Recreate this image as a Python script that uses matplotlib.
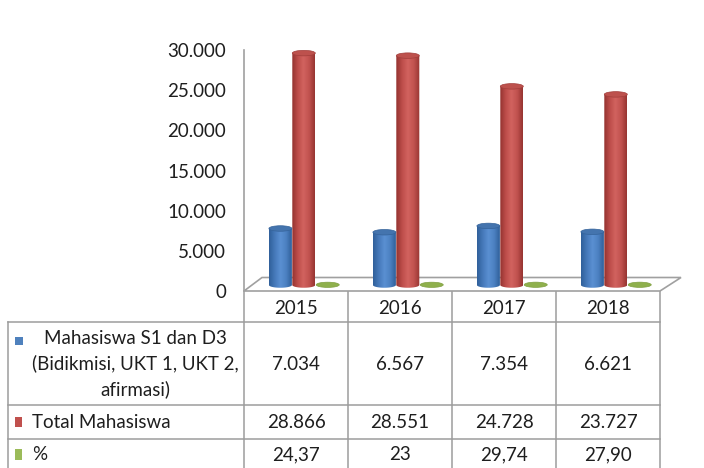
import numpy as np
import matplotlib.pyplot as plt
from matplotlib.patches import Ellipse, Polygon, Rectangle
from matplotlib.colors import LinearSegmentedColormap

plt.rcParams['font.family'] = ['Lato', 'DejaVu Sans']

years = ['2015', '2016', '2017', '2018']
mahasiswa_s1_d3 = [7034, 6567, 7354, 6621]
total_mahasiswa = [28866, 28551, 24728, 23727]
persen_labels = ['24,37', '23', '29,74', '27,90']
persen = [float(p.replace(',', '.')) for p in persen_labels]
yticks = [0, 5000, 10000, 15000, 20000, 25000, 30000]

row_names = ['Mahasiswa S1 dan D3\n(Bidikmisi, UKT 1, UKT 2,\nafirmasi)',
             'Total Mahasiswa', '%']


def fmt(v):
    return f'{v:,}'.replace(',', '.')


W, H = 704, 468
fig = plt.figure(figsize=(W / 100, H / 100), dpi=100)

# chart axes: value 0 at pixel row 291, 30.000 at row 50; columns 244..660
x_left, x_right, y_zero, y_top = 244, 660, 291, 50
ax = fig.add_axes([x_left / W, (H - y_zero) / H, (x_right - x_left) / W, (y_zero - y_top) / H])
ax.set_facecolor('none')

px_per_unit_y = (y_zero - y_top) / 30000
px_per_unit_x = (x_right - x_left) / 4
depth = 6 / px_per_unit_y        # 3d floor offset of bar bases
cap_h = 5.5 / px_per_unit_y      # cylinder cap height in value units
bw = 23 / px_per_unit_x          # cylinder width in category units

blue_cmap = LinearSegmentedColormap.from_list(
    'b', ['#30609a', '#4679ba', '#5a90d2', '#4c81c2', '#30609a'])
red_cmap = LinearSegmentedColormap.from_list(
    'r', ['#943330', '#bd4d4a', '#d2635f', '#c1524f', '#973532'])
grad = np.linspace(0, 1, 80).reshape(1, -1)


def cylinder(cx, value, cmap, top_face, top_edge):
    x0, x1 = cx - bw / 2, cx + bw / 2
    base = depth
    top = depth + value
    t = np.linspace(np.pi, 2 * np.pi, 40)
    pts = [(x0, top), (x0, base)]
    pts += list(zip(cx + bw / 2 * np.cos(t), base + cap_h / 2 * np.sin(t)))
    pts += [(x1, base), (x1, top)]
    clip = Polygon(pts, closed=True, transform=ax.transData, facecolor='none', edgecolor='none')
    ax.add_patch(clip)
    im = ax.imshow(grad, cmap=cmap, extent=[x0, x1, base - cap_h, top],
                   aspect='auto', interpolation='bilinear', zorder=3)
    im.set_clip_path(clip)
    ax.add_patch(Ellipse((cx, top), bw, cap_h, facecolor=top_face,
                         edgecolor=top_edge, lw=0.5, zorder=4))


# floor
floor = Polygon([(-0.5, 0), (-0.5 + 18 / px_per_unit_x, 13.5 / px_per_unit_y),
                 (3.5 + 21 / px_per_unit_x, 13.5 / px_per_unit_y), (3.5, 0)],
                closed=True, facecolor='white', edgecolor='#a0a0a0', lw=1.2,
                clip_on=False, zorder=1)
ax.add_patch(floor)

for i in range(len(years)):
    cylinder(i - 0.15, mahasiswa_s1_d3[i], blue_cmap, '#4474ae', '#35639a')
    cylinder(i + 0.075, total_mahasiswa[i], red_cmap, '#bd514d', '#a23e3b')
    ax.add_patch(Ellipse((i + 0.305, depth + persen[i]), bw, cap_h * 0.95,
                         facecolor='#8fb04c', edgecolor='#7f9f40', lw=0.5, zorder=4))

ax.set_xlim(-0.5, 3.5)
ax.set_ylim(0, 30000)
ax.set_yticks(yticks)
ax.set_yticklabels([fmt(v) for v in yticks], fontsize=13.5, color='#1e1e1e')
ax.set_xticks([])
ax.tick_params(axis='y', length=0, pad=13)
for s in ['top', 'right', 'bottom']:
    ax.spines[s].set_visible(False)
ax.spines['left'].set_color('#a0a0a0')
ax.spines['left'].set_linewidth(1.2)

# data table drawn in pixel space
tab = fig.add_axes([0, 0, 1, 1])
tab.set_xlim(0, W)
tab.set_ylim(H, 0)
tab.axis('off')
tab.set_zorder(-1)
lc, lw = '#9c9c9c', 1.1
col_w = (x_right - x_left) / len(years)
rows = [y_zero, 322, 405, 439]
for k in range(len(years) + 1):
    tab.plot([x_left + k * col_w] * 2, [y_zero, H], color=lc, lw=lw)
tab.plot([8, 8], [rows[1], H], color=lc, lw=lw)
for y in rows[1:]:
    tab.plot([8, x_right], [y, y], color=lc, lw=lw)

txt = dict(fontsize=13.5, color='#1e1e1e', va='center')
row_y = [364, 422, 455]
for i, yr in enumerate(years):
    cx = x_left + (i + 0.5) * col_w
    tab.text(cx, 308, yr, ha='center', **txt)
    tab.text(cx, row_y[0], fmt(mahasiswa_s1_d3[i]), ha='center', **txt)
    tab.text(cx, row_y[1], fmt(total_mahasiswa[i]), ha='center', **txt)
    tab.text(cx, row_y[2], persen_labels[i], ha='center', **txt)

tab.text(135, row_y[0], row_names[0], ha='center', multialignment='center',
         linespacing=1.5, **txt)
tab.text(32, row_y[1], row_names[1], ha='left', **txt)
tab.text(32, row_y[2], row_names[2], ha='left', **txt)
tab.add_patch(Rectangle((15, 337), 8, 8, facecolor='#4f81bd', edgecolor='none'))
tab.add_patch(Rectangle((15, 417), 7, 10, facecolor='#c0504d', edgecolor='none'))
tab.add_patch(Rectangle((15, 449), 7, 11, facecolor='#9bbb59', edgecolor='none'))

fig.savefig('out.png', dpi=100)
